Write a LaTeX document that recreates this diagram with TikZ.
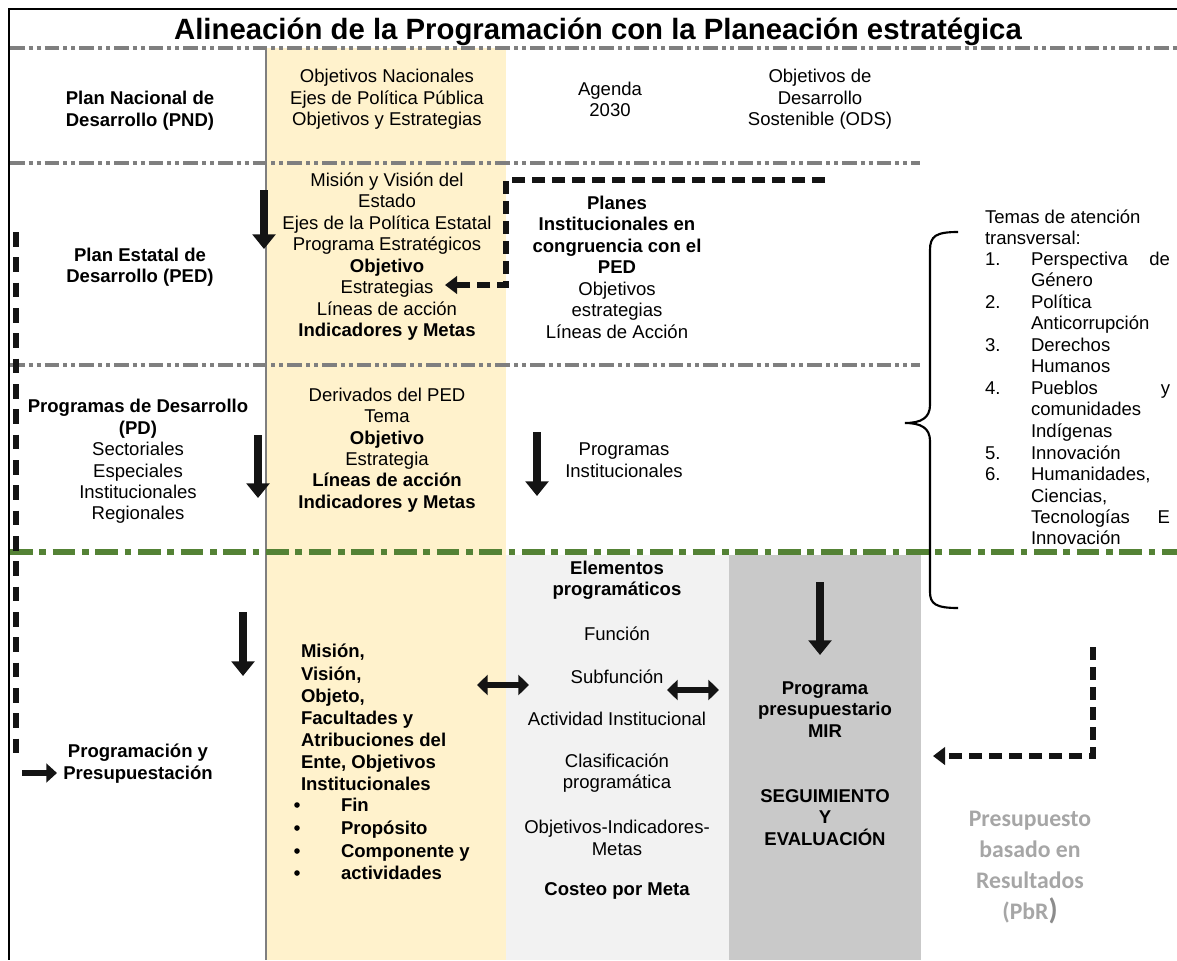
\documentclass[tikz,border=0pt]{standalone}
\usepackage{fontspec}
\setmainfont{Liberation Sans}
\newfontfamily\calib{Carlito}
\usetikzlibrary{arrows.meta}
\definecolor{band}{HTML}{FFF2CC}
\definecolor{lgray}{HTML}{F2F2F2}
\definecolor{mgray}{HTML}{C9C9C9}
\definecolor{lineg}{HTML}{7F7F7F}
\definecolor{greenl}{HTML}{548235}
\definecolor{pbr}{HTML}{A6A6A6}
\tikzset{
  txt/.style={inner sep=0pt, outer sep=0pt, align=center, font=\fontsize{13.9}{16.1}\selectfont},
  ltxt/.style={inner sep=0pt, outer sep=0pt, anchor=base west, font=\fontsize{13.9}{16.1}\selectfont},
  rtxt/.style={inner sep=0pt, outer sep=0pt, anchor=base east, font=\fontsize{13.9}{16.1}\selectfont},
  btxt/.style={ltxt, font=\fontsize{13.9}{16.1}\selectfont\bfseries},
  bullet/.style={inner sep=0pt, circle, fill=black, minimum size=4.2pt},
  bigarrow/.style={draw=black!92, line width=6.6pt, -{Triangle[width=17pt,length=11pt]}},
  dblarrow/.style={draw=black!92, line width=5.2pt, {Triangle[width=15pt,length=8pt]}-{Triangle[width=15pt,length=8pt]}},
  smallarrow/.style={draw=black!92, line width=5.2pt, -{Triangle[width=14pt,length=8pt]}},
  dasharrow/.style={draw=black!92, line width=3.8pt, dash pattern=on 10pt off 5pt, -{Triangle[width=13pt,length=9pt]}},
  dashline/.style={draw=black!92, line width=4.3pt, dash pattern=on 11pt off 8pt},
  grayline/.style={draw=lineg, line width=3pt, dash pattern=on 11pt off 3pt on 3pt off 3pt on 3pt off 3pt},
  greenline/.style={draw=greenl, line width=4.5pt, dash pattern=on 17pt off 5pt on 5pt off 5pt},
}
\begin{document}
\begin{tikzpicture}[x=0.75pt,y=-0.75pt]
\useasboundingbox (0,0) rectangle (1177,960);
% bands
\fill[band] (267,48) rectangle (506,960);
\fill[lgray] (506,555) rectangle (729,960);
\fill[mgray] (729,555) rectangle (921,960);
% frame
\draw[line width=1.6pt] (1177,9) -- (9,9) -- (9,960);
\draw[lineg, line width=1.1pt] (266,48) -- (266,960);
% separators
\draw[grayline] (10,48) -- (1177,48);
\draw[grayline] (10,163) -- (920,163);
\draw[grayline] (10,365) -- (920,365);
\draw[greenline] (10,552) -- (1177,552);
% title
\node[inner sep=0pt, font=\fontsize{22}{26}\selectfont\bfseries] (title) at (598,32) {Alineación de la Programación con la Planeación estratégica};
% row 1
\node[txt, font=\fontsize{13.9}{16.1}\selectfont\bfseries] (pnd) at (140,110.5) {Plan Nacional de\\Desarrollo (PND)};
\node[txt] (ynac) at (387,99.5) {Objetivos Nacionales\\Ejes de Política Pública\\Objetivos y Estrategias};
\node[txt] (agenda) at (610,99.5) {Agenda\\2030};
\node[txt] (ods) at (820,99.5) {Objetivos de\\Desarrollo\\Sostenible (ODS)};
% row 2
\node[txt, font=\fontsize{13.9}{16.1}\selectfont\bfseries] (ped) at (140,267) {Plan Estatal de\\Desarrollo (PED)};
\node[txt] (yped) at (387,256.5) {Misión y Visión del\\Estado\\Ejes de la Política Estatal\\Programa Estratégicos\\\textbf{Objetivo}\\Estrategias\\Líneas de acción\\\textbf{Indicadores y Metas}};
\node[txt] (planes) at (617,267) {\textbf{Planes}\\\textbf{Institucionales en}\\\textbf{congruencia con el}\\\textbf{PED}\\Objetivos\\estrategias\\Líneas de Acción};
% row 3
\node[txt] (pd) at (138,461.5) {\textbf{Programas de Desarrollo}\\\textbf{(PD)}\\Sectoriales\\Especiales\\Institucionales\\Regionales};
\node[txt] (ypd) at (387,450) {Derivados del PED\\Tema\\\textbf{Objetivo}\\Estrategia\\\textbf{Líneas de acción}\\\textbf{Indicadores y Metas}};
\node[txt] (pinst) at (624,460) {Programas\\Institucionales};
% temas
\node[ltxt] (t0) at (985,223) {Temas de atención};
\node[ltxt] (t0b) at (985,244) {transversal:};
\node[ltxt] (n1) at (985,265) {1.};
\node[ltxt] (t1) at (1031,265) {Perspectiva};
\node[rtxt] (t1r) at (1170,265) {de};
\node[ltxt] (t1b) at (1031,286) {Género};
\node[ltxt] (n2) at (985,308) {2.};
\node[ltxt] (t2) at (1031,308) {Política};
\node[ltxt] (t2b) at (1031,329) {Anticorrupción};
\node[ltxt] (n3) at (985,351) {3.};
\node[ltxt] (t3) at (1031,351) {Derechos};
\node[ltxt] (t3b) at (1031,372) {Humanos};
\node[ltxt] (n4) at (985,394) {4.};
\node[ltxt] (t4) at (1031,394) {Pueblos};
\node[rtxt] (t4r) at (1170,394) {y};
\node[ltxt] (t4b) at (1031,415) {comunidades};
\node[ltxt] (t4c) at (1031,437) {Indígenas};
\node[ltxt] (n5) at (985,459) {5.};
\node[ltxt] (t5) at (1031,459) {Innovación};
\node[ltxt] (n6) at (985,480) {6.};
\node[ltxt] (t6) at (1031,480) {Humanidades,};
\node[ltxt] (t6b) at (1031,502) {Ciencias,};
\node[ltxt] (t6c) at (1031,523) {Tecnologías};
\node[rtxt] (t6r) at (1170,523) {E};
\node[ltxt] (t6d) at (1031,544) {Innovación};
% brace
\draw[line width=1.6pt] (958,232) .. controls (936,232) and (930,236) .. (930,250) -- (930,405) .. controls (930,418) and (921,423) .. (905,423) .. controls (921,423) and (930,428) .. (930,441) -- (930,592) .. controls (930,604) and (936,608) .. (958,608);
% row 4
\node[txt, font=\fontsize{13.9}{16.1}\selectfont\bfseries] (progpres) at (138,763.5) {Programación y\\Presupuestación};
\node[btxt] (m1) at (301,657) {Misión,};
\node[btxt] (m2) at (301,680) {Visión,};
\node[btxt] (m3) at (301,702) {Objeto,};
\node[btxt] (m4) at (301,724) {Facultades y};
\node[btxt] (m5) at (301,746) {Atribuciones del};
\node[btxt] (m6) at (301,768) {Ente, Objetivos};
\node[btxt] (m7) at (301,790) {Institucionales};
\node[bullet] (bu1) at (297,805) {};
\node[btxt] (b1) at (341,811) {Fin};
\node[bullet] (bu2) at (297,828) {};
\node[btxt] (b2) at (341,834) {Propósito};
\node[bullet] (bu3) at (297,851) {};
\node[btxt] (b3) at (341,857) {Componente y};
\node[bullet] (bu4) at (297,873) {};
\node[btxt] (b4) at (341,879) {actividades};
\node[txt, font=\fontsize{13.9}{16.1}\selectfont\bfseries] (elem) at (617,580) {Elementos\\programáticos};
\node[txt] (func) at (617,634) {Función};
\node[txt] (subf) at (617,677) {Subfunción};
\node[txt] (activ) at (617,719) {Actividad Institucional};
\node[txt] (clasif) at (617,773) {Clasificación\\programática};
\node[txt] (oim) at (617,838) {Objetivos-Indicadores-\\Metas};
\node[txt, font=\fontsize{13.9}{16.1}\selectfont\bfseries] (costeo) at (617,891) {Costeo por Meta};
\node[txt, font=\fontsize{13.9}{16.1}\selectfont\bfseries] (pp) at (825,709.5) {Programa\\presupuestario\\MIR};
\node[txt, font=\fontsize{13.9}{16.1}\selectfont\bfseries] (seg) at (825,817.5) {SEGUIMIENTO\\Y\\EVALUACIÓN};
\node[inner sep=0pt, align=center, text=pbr, font=\calib\fontsize{17.8}{23.25}\selectfont\bfseries] (pbr) at (1030,868) {Presupuesto\\basado en\\Resultados\\(PbR{\fontsize{22}{23.25}\selectfont\color{black!45})}};
% arrows
\coordinate (a1s) at (264,190); \coordinate (a1e) at (264,249);
\coordinate (a2s) at (258,435); \coordinate (a2e) at (258,498);
\coordinate (a3s) at (537,432); \coordinate (a3e) at (537,496);
\coordinate (a4s) at (243,612); \coordinate (a4e) at (243,676);
\coordinate (a5s) at (820,582); \coordinate (a5e) at (820,655);
\draw[bigarrow] (a1s) -- (a1e);
\draw[bigarrow] (a2s) -- (a2e);
\draw[bigarrow] (a3s) -- (a3e);
\draw[bigarrow] (a4s) -- (a4e);
\draw[bigarrow] (a5s) -- (a5e);
\coordinate (d1a) at (477,685); \coordinate (d1b) at (529,685);
\coordinate (d2a) at (667,690); \coordinate (d2b) at (719,690);
\draw[dblarrow] (d1a) -- (d1b);
\draw[dblarrow] (d2a) -- (d2b);
% dashed connectors
\coordinate (k1) at (825,180); \coordinate (k2) at (506,180); \coordinate (k3) at (506,285); \coordinate (k4) at (445,285);
\draw[dasharrow] (k1) -- (k2) -- (k3) -- (k4);
\coordinate (r1) at (1093,647); \coordinate (r2) at (1093,756); \coordinate (r3) at (933,756);
\draw[dasharrow] (r1) -- (r2) -- (r3);
\coordinate (lt) at (16,232); \coordinate (lb) at (16,760);
\draw[dashline] (lt) -- (lb);
\coordinate (la) at (22,773); \coordinate (lr) at (57,773);
\draw[smallarrow] (la) -- (lr);
\end{tikzpicture}
\end{document}
